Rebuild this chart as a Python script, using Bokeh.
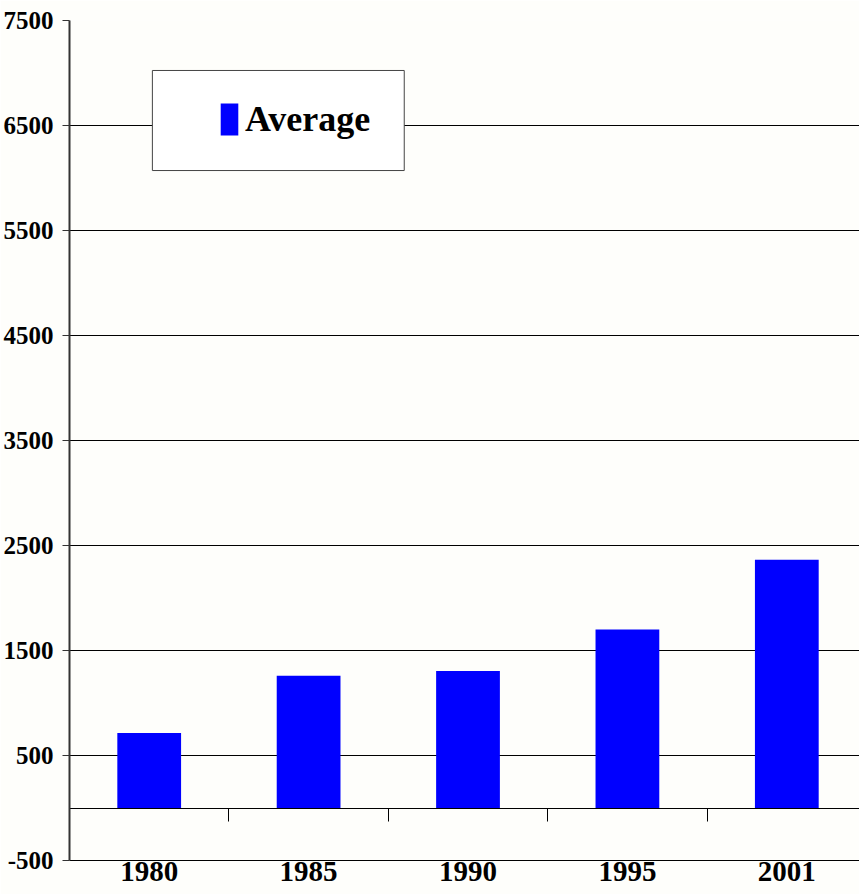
import numpy as np
from bokeh.plotting import figure
from bokeh.models import (Range1d, FixedTicker, LinearAxis, BoxAnnotation,
                          Legend, LegendItem)
from bokeh.embed import file_html
from bokeh.resources import INLINE

# Data
years = ["1980", "1985", "1990", "1995", "2001"]
average = [715, 1260, 1305, 1700, 2365]
y_ticks = [-500, 500, 1500, 2500, 3500, 4500, 5500, 6500, 7500]
series_name = "Average"

FONT = "Liberation Serif"
BG = "#fefefb"

centers = np.arange(len(years)) + 0.5
boundaries = np.arange(1, len(years))

p = figure(width=859, height=894, output_backend="svg", toolbar_location=None,
           x_range=Range1d(0, len(years) - 0.044), y_range=Range1d(-500, 7500),
           min_border_left=69, min_border_right=0, min_border_top=20,
           min_border_bottom=34)
p.background_fill_color = BG
p.border_fill_color = BG
p.outline_line_color = None

bars = p.vbar(x=centers, top=average, bottom=0, width=0.4,
              fill_color="#0000ff", line_color=None)

# Horizontal grid at every labelled value
p.xgrid.visible = False
p.ygrid.ticker = FixedTicker(ticks=y_ticks)
p.ygrid.grid_line_color = "black"
p.ygrid.grid_line_width = 1

# Value axis (plain hyphen for negative labels)
yax = p.yaxis[0]
yax.ticker = FixedTicker(ticks=y_ticks)
yax.major_label_overrides = {t: str(t) for t in y_ticks}
yax.axis_line_color = "#333333"
yax.axis_line_width = 2
yax.major_tick_line_color = "#333333"
yax.major_tick_in = 0
yax.major_tick_out = 7
yax.minor_tick_line_color = None
yax.major_label_standoff = 9
yax.major_label_text_font = FONT
yax.major_label_text_font_style = "bold"
yax.major_label_text_font_size = "25px"
yax.major_label_text_color = "black"

# Category labels along the bottom edge
xax = p.xaxis[0]
xax.ticker = FixedTicker(ticks=list(centers))
xax.major_label_overrides = {float(c): y for c, y in zip(centers, years)}
xax.axis_line_color = "black"
xax.major_tick_in = 0
xax.major_tick_out = 0
xax.minor_tick_line_color = None
xax.major_label_standoff = 1
xax.major_label_text_font = FONT
xax.major_label_text_font_style = "bold"
xax.major_label_text_font_size = "29px"
xax.major_label_text_color = "black"

# Zero line with category separators
zero_axis = LinearAxis(fixed_location=0, ticker=FixedTicker(ticks=list(boundaries)),
                       axis_line_color="black", major_tick_line_color="black",
                       major_tick_in=0, major_tick_out=13,
                       minor_tick_line_color=None, major_label_text_color=None)
p.add_layout(zero_axis, "below")

# Legend frame and entry
frame = BoxAnnotation(left=0.52, right=2.10, bottom=6071, top=7024,
                      fill_color="white", fill_alpha=1.0,
                      line_color="#444444", line_alpha=1.0, line_width=1)
p.add_layout(frame)

legend = Legend(items=[LegendItem(label=series_name, renderers=[bars])],
                location=(149, 720), padding=0, margin=0, spacing=0,
                glyph_width=22, glyph_height=40, label_standoff=5,
                border_line_color=None, background_fill_alpha=0,
                label_text_font=FONT, label_text_font_style="bold",
                label_text_font_size="36px", label_text_color="black")
p.add_layout(legend)

open("out.html", "w").write(file_html(p, INLINE))
